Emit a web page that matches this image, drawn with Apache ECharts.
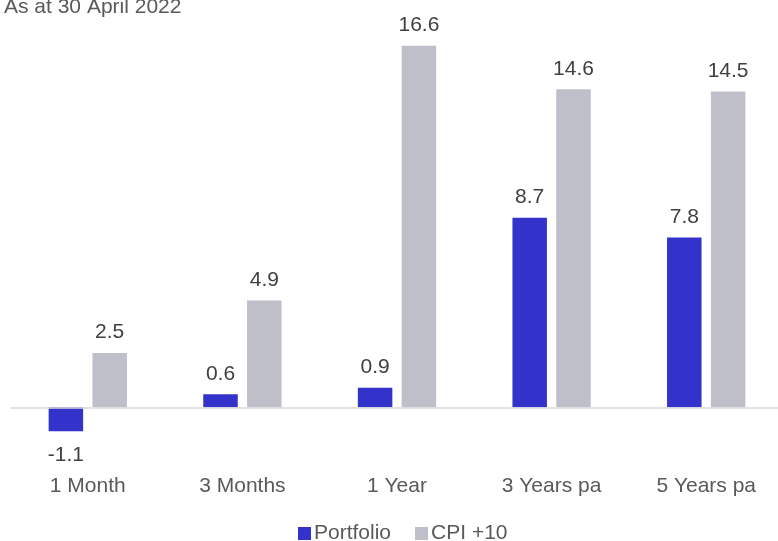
<!DOCTYPE html>
<html>
<head>
<meta charset="utf-8">
<script src="https://cdn.jsdelivr.net/npm/echarts@6/dist/echarts.min.js"></script>
<style>html,body{margin:0;padding:0;background:#fff;}#c{width:778px;height:541px;}</style>
</head>
<body>
<div id="c"></div>
<script>
const categories = ['1 Month', '3 Months', '1 Year', '3 Years pa', '5 Years pa'];
const portfolio = [-1.1, 0.6, 0.9, 8.7, 7.8];
const cpi10 = [2.5, 4.9, 16.6, 14.6, 14.5];
const seriesNames = ['Portfolio', 'CPI +10'];
const titleText = 'As at 30 April 2022';

const FONT = '"Liberation Sans", Arial, sans-serif';
const chart = echarts.init(document.getElementById('c'), null, {renderer: 'canvas'});
chart.setOption({
  animation: false,
  backgroundColor: '#ffffff',
  title: {
    text: titleText, left: -1, top: -8,
    textStyle: {fontFamily: FONT, fontSize: 21, fontWeight: 'normal', color: '#595959'}
  },
  legend: {
    data: seriesNames, left: 293, top: 518,
    itemWidth: 13, itemHeight: 13, itemGap: 24,
    icon: 'rect',
    textStyle: {fontFamily: FONT, fontSize: 21, color: '#595959', padding: [0, 0, 0, -2]}
  },
  grid: {left: 10.5, width: 773, top: 15.3, height: 435.6, containLabel: false, outerBoundsMode: 'none'},
  xAxis: {
    type: 'category', data: categories,
    axisLine: {show: false, onZero: false},
    axisTick: {show: false},
    axisLabel: {fontFamily: FONT, fontSize: 21, color: '#595959', margin: 25}
  },
  yAxis: {
    type: 'value', min: -2, max: 18, show: false,
    splitLine: {show: false}
  },
  series: [
    {
      name: seriesNames[0], type: 'bar',
      data: portfolio.map(v => v < 0 ? {value: v, label: {distance: 13}} : v),
      barWidth: 34.5, barGap: '27%',
      itemStyle: {color: '#3333CC'},
      label: {
        show: true, position: 'outside', distance: 10,
        fontFamily: FONT, fontSize: 21, color: '#404040',
        formatter: p => p.value.toFixed(1)
      },
      markLine: {
        silent: true, symbol: 'none', label: {show: false},
        lineStyle: {color: '#D9D9D9', width: 1.5, type: 'solid'},
        data: [{yAxis: 0}]
      }
    },
    {
      name: seriesNames[1], type: 'bar', data: cpi10,
      barWidth: 34.5, barGap: '27%',
      itemStyle: {color: '#BFBFC9'},
      label: {
        show: true, position: 'top', distance: 10,
        fontFamily: FONT, fontSize: 21, color: '#404040',
        formatter: p => p.value.toFixed(1)
      }
    }
  ]
});
</script>
</body>
</html>
